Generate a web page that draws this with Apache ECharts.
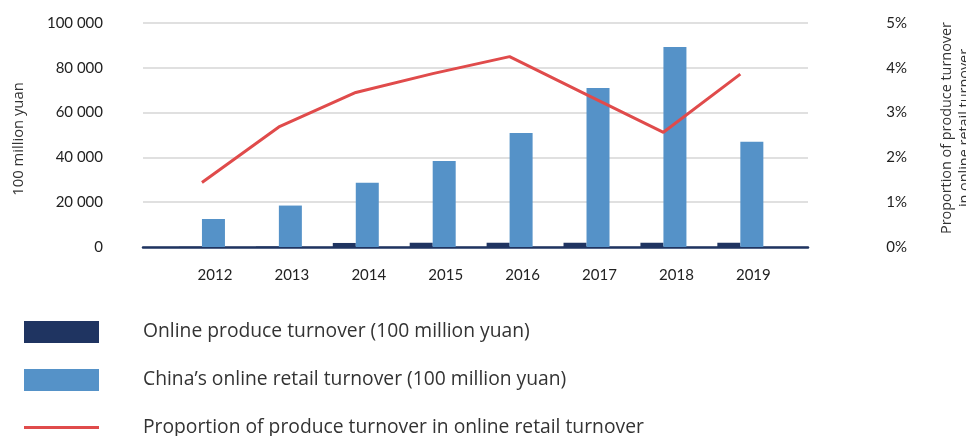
<!DOCTYPE html>
<html>
<head>
<meta charset="utf-8">
<script src="https://cdn.jsdelivr.net/npm/echarts@6/dist/echarts.min.js"></script>
<style>
html,body{margin:0;padding:0;background:#fff;}
#c{width:966px;height:436px;}
</style>
</head>
<body>
<div id="c"></div>
<script>
var years = ['2012','2013','2014','2015','2016','2017','2018','2019'];
var produceTurnover = [100, 200, 1800, 1900, 1900, 1900, 1900, 1900];
var retailTurnover = [12500, 18500, 28700, 38400, 50900, 71000, 89300, 47000];
var proportion = [1.44, 2.68, 3.45, 3.87, 4.25, 3.40, 2.56, 3.86];
var leftTicks = [0, 20000, 40000, 60000, 80000, 100000];
var rightTicks = [0, 1, 2, 3, 4, 5];
var seriesNames = [
  'Online produce turnover (100 million yuan)',
  'China\u2019s online retail turnover (100 million yuan)',
  'Proportion of produce turnover in online retail turnover'
];

var FONT = 'Lato';
var TFONT = 'Open Sans';
var chart = echarts.init(document.getElementById('c'));
function fmt(v){ return String(v).replace(/\B(?=(\d{3})+(?!\d))/g, ' '); }
function legendAt(name, top, icon, h){
  return {
    orient: 'vertical', left: 24, top: top, padding: 0,
    itemWidth: 75, itemHeight: h, icon: icon,
    textStyle: {fontFamily: TFONT, fontSize: 19.3, color: '#333', padding: [0,0,0,39]},
    data: [name]
  };
}

chart.setOption({
  animation: false,
  textStyle: {fontFamily: FONT},
  legend: [
    legendAt(seriesNames[0], 321, 'rect', 22),
    legendAt(seriesNames[1], 369, 'rect', 22),
    legendAt(seriesNames[2], 418, 'rect', 3)
  ],
  grid: [
    {left: 143, right: 158, top: 23, bottom: 189, outerBoundsMode: 'none', containLabel: false},
    {left: 163.5, right: 187.2, top: 23, bottom: 189, outerBoundsMode: 'none', containLabel: false}
  ],
  xAxis: [
    {gridIndex: 0, type: 'category', data: years, boundaryGap: true,
     axisLine: {show: true, lineStyle: {color: '#1F3461', width: 2.5}},
     axisTick: {show: false}, axisLabel: {show: false}, splitLine: {show: false}},
    {gridIndex: 1, type: 'category', data: years,
     axisLine: {show: false}, axisTick: {show: false},
     axisLabel: {fontFamily: FONT, fontSize: 15, color: '#222', margin: 21, padding: [0,0,0,26]}}
  ],
  yAxis: [
    {gridIndex: 0, type: 'value', min: leftTicks[0], max: leftTicks[leftTicks.length-1], interval: 20000,
     position: 'left',
     name: '100 million yuan', nameLocation: 'middle', nameGap: 117, nameRotate: 90,
     nameTextStyle: {fontFamily: TFONT, fontSize: 14.8, color: '#333', padding: [0,8,0,0]},
     axisLine: {show: false}, axisTick: {show: false},
     axisLabel: {fontFamily: FONT, fontSize: 15, color: '#222', margin: 40, formatter: fmt},
     splitLine: {show: true, lineStyle: {color: '#d6d6d6', width: 1.5}}},
    {gridIndex: 0, type: 'value', min: rightTicks[0], max: rightTicks[rightTicks.length-1], interval: 1,
     position: 'right',
     name: 'Proportion of produce turnover\nin online retail turnover', nameLocation: 'middle', nameGap: 130, nameRotate: 90,
     nameTextStyle: {fontFamily: TFONT, fontSize: 14.4, color: '#333', lineHeight: 18, padding: [0,0,0,14]},
     axisLine: {show: false}, axisTick: {show: false},
     axisLabel: {fontFamily: FONT, fontSize: 15, color: '#222', margin: 99, align: 'right', formatter: '{value}%'},
     splitLine: {show: false}},
    {gridIndex: 1, type: 'value', min: 0, max: 100000, show: false},
    {gridIndex: 1, type: 'value', min: 0, max: 5, show: false}
  ],
  series: [
    {name: seriesNames[0], type: 'bar', xAxisIndex: 1, yAxisIndex: 2,
     data: produceTurnover, barWidth: 23, barGap: '0%', itemStyle: {color: '#1F3461'}},
    {name: seriesNames[1], type: 'bar', xAxisIndex: 1, yAxisIndex: 2,
     data: retailTurnover, barWidth: 23, barGap: '0%', itemStyle: {color: '#5592C8'}},
    {name: seriesNames[2], type: 'line', xAxisIndex: 1, yAxisIndex: 3,
     data: proportion, symbol: 'none', showSymbol: false,
     lineStyle: {color: '#E04B4B', width: 3}, itemStyle: {color: '#E04B4B'}}
  ]
});
</script>
</body>
</html>
